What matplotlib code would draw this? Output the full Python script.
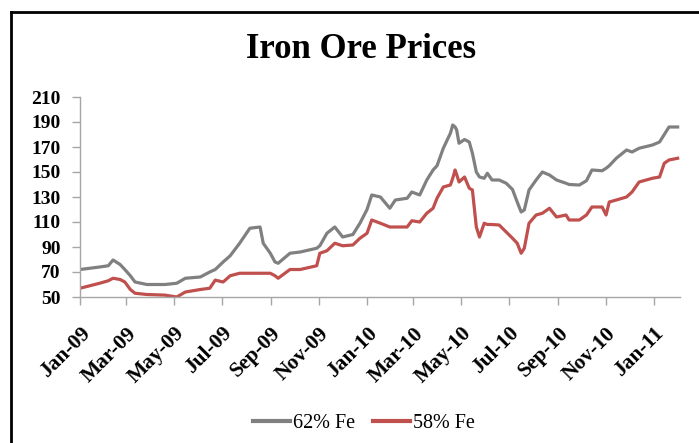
import matplotlib
matplotlib.use("Agg")
import matplotlib.pyplot as plt
import matplotlib.dates as mdates
from matplotlib.lines import Line2D
import pandas as pd

dates = ["2009-01-01", "2009-01-26", "2009-02-06", "2009-02-12", "2009-02-21", "2009-02-27",
         "2009-03-06", "2009-03-12", "2009-03-27", "2009-04-19", "2009-05-04", "2009-05-15",
         "2009-06-03", "2009-06-15", "2009-06-22", "2009-07-02", "2009-07-11", "2009-07-23",
         "2009-08-05", "2009-08-18", "2009-08-22", "2009-08-31", "2009-09-06", "2009-09-10",
         "2009-09-25", "2009-10-08", "2009-10-29", "2009-11-02", "2009-11-11", "2009-11-21",
         "2009-12-01", "2009-12-14", "2009-12-23", "2010-01-01", "2010-01-07", "2010-01-18",
         "2010-01-30", "2010-02-06", "2010-02-21", "2010-02-27", "2010-03-09", "2010-03-18",
         "2010-03-26", "2010-03-31", "2010-04-08", "2010-04-17", "2010-04-20", "2010-04-23",
         "2010-04-25", "2010-04-28", "2010-05-05", "2010-05-11", "2010-05-15", "2010-05-20",
         "2010-05-24", "2010-05-30", "2010-06-03", "2010-06-09", "2010-06-18", "2010-06-27",
         "2010-07-05", "2010-07-11", "2010-07-16", "2010-07-20", "2010-07-26", "2010-08-04",
         "2010-08-12", "2010-08-21", "2010-08-30", "2010-09-11", "2010-09-15", "2010-09-28",
         "2010-10-07", "2010-10-14", "2010-10-27", "2010-11-01", "2010-11-05", "2010-11-14",
         "2010-11-27", "2010-12-04", "2010-12-13", "2010-12-30", "2011-01-08", "2011-01-14",
         "2011-01-20", "2011-01-31"]

fe62 = [72, 74, 75, 79.6, 76, 72,
        67, 62, 60, 60, 61, 65,
        66, 70, 72, 78, 83, 93,
        105, 106, 93, 85, 78, 77,
        85, 86, 89, 91, 101, 106,
        98, 100, 109, 120, 131.6, 130,
        121, 127.6, 129, 134, 131.6, 143.6,
        151.6, 155, 169, 181, 187.6, 186,
        183.6, 173, 176, 174, 165, 150,
        146, 145, 149, 143.6, 143.6, 141,
        136, 126, 118, 119.6, 135.6, 143.6,
        150, 147.6, 143.6, 141, 140, 139.6,
        143, 151.6, 151, 153, 155, 161,
        167.6, 166, 169, 171.6, 174, 180,
        186, 186]

fe58 = [57, 61, 63, 65, 64, 62,
        56, 53, 52, 51.5, 50, 54,
        56, 57, 63.5, 62, 67, 69,
        69, 69, 69, 69, 67, 65,
        72, 72, 75, 85, 87, 93,
        91, 91.6, 97, 101, 111.6, 109,
        106, 106, 106, 111, 110, 117,
        121, 129, 138, 139.6, 145, 151.6,
        148, 142, 146, 137, 135.6, 106,
        98, 109, 108, 108, 107.6, 102,
        97, 93, 85, 89, 109, 115.6,
        117, 121, 114, 115.6, 111.6, 111.6,
        115.6, 122, 122, 115.6, 126, 127.6,
        130, 134, 142, 145, 146, 157,
        159.6, 161]

series_names = ["62% Fe", "58% Fe"]
yticks = [50, 70, 90, 110, 130, 150, 170, 190, 210]

df = pd.DataFrame({"date": pd.to_datetime(dates), "fe62": fe62, "fe58": fe58})

W, H = 699, 443
fig = plt.figure(figsize=(W / 100, H / 100), dpi=100)
fig.patch.set_facecolor("white")

ax = fig.add_axes([80 / W, 1 - 297 / H, 600 / W, 200 / H])
gray = "#808080"
red = "#C0504D"
ax.plot(df["date"], df["fe62"], color=gray, lw=2.3, solid_joinstyle="round")
ax.plot(df["date"], df["fe58"], color=red, lw=2.3, solid_joinstyle="round")

ax.set_ylim(50, 210)
ax.set_yticks(yticks)
ax.set_xlim(pd.Timestamp("2009-01-01"), pd.Timestamp("2011-02-03"))
ax.xaxis.set_major_locator(mdates.MonthLocator(bymonth=[1, 3, 5, 7, 9, 11]))
ax.xaxis.set_major_formatter(mdates.DateFormatter("%b-%y"))

for s in ["top", "right"]:
    ax.spines[s].set_visible(False)
for s in ["left", "bottom"]:
    ax.spines[s].set_color("#A6A6A6")
    ax.spines[s].set_linewidth(1.0)

ax.tick_params(axis="both", colors="#A6A6A6", length=6, width=1.0, direction="out")
ax.tick_params(axis="y", pad=8)
ax.tick_params(axis="x", pad=13)

serif = ["Liberation Serif", "DejaVu Serif"]
for lab in ax.get_yticklabels():
    lab.set_fontfamily(serif)
    lab.set_fontweight("bold")
    lab.set_fontsize(14)
    lab.set_color("black")
for lab in ax.get_xticklabels():
    lab.set_fontfamily(serif)
    lab.set_fontweight("bold")
    lab.set_fontsize(15.5)
    lab.set_color("black")
    lab.set_rotation(45)
    lab.set_ha("right")
    lab.set_va("top")
    lab.set_rotation_mode("anchor")

fig.text(361 / W, 1 - 50 / H, "Iron Ore Prices", ha="center", va="center",
         fontfamily=serif, fontweight="bold", fontsize=25)

handles = [Line2D([], [], color=gray, lw=3.0), Line2D([], [], color=red, lw=3.0)]
fig.legend(handles, series_names, loc="center", bbox_to_anchor=(364 / W, 1 - 423 / H),
           ncol=2, frameon=False, prop={"family": serif, "size": 14.5},
           handlelength=1.85, handletextpad=0.15, columnspacing=0.9)

# outer chart frame (left and top edges visible)
fig.add_artist(Line2D([11 / W, 11 / W], [0, 1 - 12 / H], transform=fig.transFigure,
                      color="black", lw=2))
fig.add_artist(Line2D([11 / W, 1], [1 - 12 / H, 1 - 12 / H], transform=fig.transFigure,
                      color="black", lw=2))

fig.savefig("out.png", dpi=100, facecolor="white")
